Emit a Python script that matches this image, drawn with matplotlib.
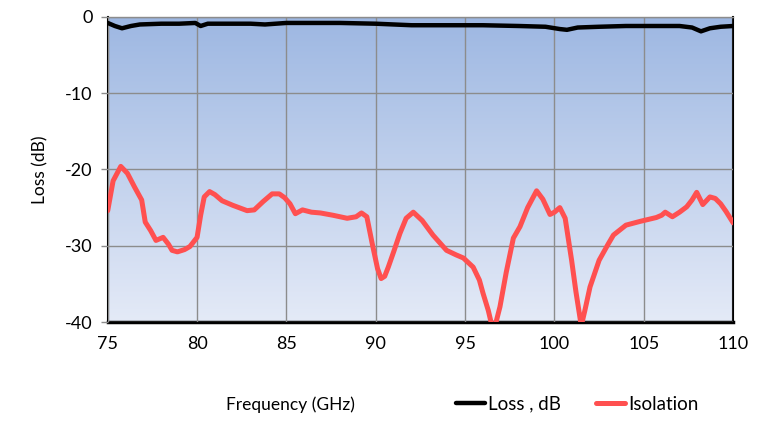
import numpy as np
import matplotlib.pyplot as plt

# isolation curve, dB
iso_f = [75.0, 75.3, 75.73, 76.1, 76.5, 76.9, 77.1, 77.4, 77.7, 78.1, 78.4, 78.6, 78.9,
         79.3, 79.6, 80.0, 80.2, 80.4, 80.7, 81.0, 81.4, 82.0, 82.8, 83.2, 83.7, 84.2,
         84.6, 84.9, 85.2, 85.5, 85.9, 86.4, 86.9, 87.6, 88.4, 88.9, 89.2, 89.5, 89.8,
         90.1, 90.3, 90.5, 90.7, 91.0, 91.35, 91.7, 92.1, 92.6, 93.2, 93.96, 94.5, 94.9,
         95.45, 95.8, 96.0, 96.3, 96.5, 96.7, 96.95, 97.3, 97.7, 98.07, 98.5, 99.0, 99.35,
         99.75, 100.0, 100.3, 100.6, 100.96, 101.2, 101.5, 101.7, 101.99, 102.5, 103.0,
         103.3, 104.0, 104.8, 105.7, 106.0, 106.2, 106.6, 107.0, 107.4, 107.7, 107.96,
         108.3, 108.7, 109.0, 109.3, 109.6, 110.0]
iso_db = [-25.4, -21.5, -19.6, -20.5, -22.3, -24.0, -26.9, -28.0, -29.3, -28.9, -29.8, -30.6, -30.8,
          -30.5, -30.1, -28.9, -26.0, -23.6, -22.9, -23.3, -24.1, -24.7, -25.4, -25.3, -24.2, -23.2,
          -23.2, -23.7, -24.5, -25.8, -25.3, -25.6, -25.7, -26.0, -26.4, -26.2, -25.7, -26.2, -29.7,
          -33.0, -34.3, -34.0, -32.8, -30.8, -28.4, -26.4, -25.6, -26.7, -28.6, -30.6, -31.2, -31.6,
          -32.8, -34.5, -36.2, -38.5, -40.5, -40.3, -38.0, -33.5, -29.0, -27.5, -25.0, -22.8, -23.9,
          -25.9, -25.6, -25.0, -26.4, -31.9, -36.0, -40.5, -38.5, -35.4, -31.9, -29.8,
          -28.6, -27.3, -26.8, -26.3, -26.0, -25.6, -26.2, -25.6, -24.9, -24.0, -23.0,
          -24.6, -23.6, -23.8, -24.5, -25.5, -27.0]

# insertion loss, dB
loss_f = [75.0, 75.4, 75.8, 76.3, 76.8, 78.0, 79.0, 79.9, 80.2, 80.6, 81.5, 83.0, 83.8,
          85.0, 86.5, 88.0, 90.0, 91.0, 92.0, 94.0, 96.0, 98.0, 99.5, 100.3, 100.7,
          101.3, 102.5, 104.0, 105.5, 107.0, 107.7, 108.2, 108.7, 109.3, 110.0]
loss_db = [-0.8, -1.2, -1.5, -1.2, -1.0, -0.9, -0.9, -0.8, -1.2, -0.9, -0.9, -0.9, -1.0,
           -0.8, -0.8, -0.8, -0.9, -1.0, -1.1, -1.1, -1.1, -1.2, -1.3, -1.6, -1.7,
           -1.4, -1.3, -1.2, -1.2, -1.2, -1.4, -1.9, -1.5, -1.3, -1.2]

x_ticks = [75, 80, 85, 90, 95, 100, 105, 110]
y_ticks = [0, -10, -20, -30, -40]

plt.rcParams['font.family'] = ['Lato', 'DejaVu Sans']
plt.rcParams['axes.unicode_minus'] = False

fig = plt.figure(figsize=(7.75, 4.21), dpi=100)
ax = fig.add_axes([0.139, 0.235, 0.807, 0.725])

# blue gradient behind the plot
top = np.array([157, 183, 226]) / 255
bot = np.array([228, 234, 247]) / 255
t = np.linspace(0, 1, 256)[:, None]
grad = (top * (1 - t) + bot * t)[:, None, :]
ax.imshow(grad, extent=[75, 110, -40, 0], aspect='auto', zorder=0, origin='upper')

ax.plot(loss_f, loss_db, color='black', lw=3.2, zorder=3, label='Loss , dB',
        solid_capstyle='round')
ax.plot(iso_f, iso_db, color='#ff5050', lw=3.6, zorder=3, label='Isolation',
        solid_capstyle='round')

ax.set_xlim(75, 110)
ax.set_ylim(-40, 0)
ax.set_xticks(x_ticks)
ax.set_yticks(y_ticks)
ax.grid(True, color='#8c8c8c', lw=1.0, zorder=1)
ax.set_axisbelow(False)
for ln in ax.get_xgridlines() + ax.get_ygridlines():
    ln.set_zorder(1)

ax.tick_params(axis='x', length=0, pad=10, labelsize=13)
ax.tick_params(axis='y', length=5, width=1, color='#8c8c8c', pad=6, labelsize=13)

for s in ['left', 'right']:
    ax.spines[s].set_color('black')
    ax.spines[s].set_linewidth(1.5)
ax.spines['bottom'].set_linewidth(2.5)
ax.spines['top'].set_color('#8c8c8c')
ax.spines['top'].set_linewidth(1.0)

ax.set_ylabel('Loss (dB)', fontsize=12.5, labelpad=12)
fig.text(0.375, 0.038, 'Frequency (GHz)', fontsize=12.5, ha='center', va='center')

fig.legend(loc='center left', bbox_to_anchor=(0.588, 0.04), ncol=2, frameon=False,
           fontsize=13.5, handlelength=1.55, handletextpad=0.15, columnspacing=1.9,
           borderpad=0, borderaxespad=0)

fig.savefig('out.png', dpi=100)
